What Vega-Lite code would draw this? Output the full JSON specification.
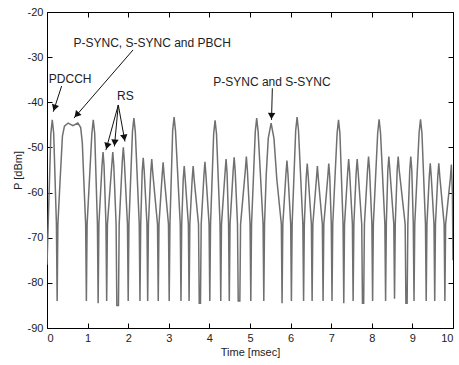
{
  "$schema": "https://vega.github.io/schema/vega-lite/v6.json",
  "width": 406,
  "height": 316,
  "autosize": "none",
  "padding": {"left": 47, "top": 12, "right": 6, "bottom": 37},
  "background": "white",
  "config": {
    "view": {"stroke": "#000", "strokeWidth": 1},
    "font": "Liberation Sans",
    "axis": {"grid": false, "domain": false, "tickColor": "#000", "tickSize": -5, "labelPadding": 9, "labelFont": "Liberation Sans", "labelFontSize": 11, "labelColor": "#222", "titleFont": "Liberation Sans", "titleFontSize": 11, "titleFontWeight": "normal", "titleColor": "#222"}
  },
  "datasets": {
    "trace": [
      {"t":0.00,"p":-76},
      {"t":0.095,"p":-46.9},{"t":0.13,"p":-43.9},{"t":0.165,"p":-46.9},
      {"t":0.232,"p":-67},{"t":0.25,"p":-84},{"t":0.268,"p":-67},
      {"t":0.33,"p":-56},{"t":0.38,"p":-47.5},{"t":0.43,"p":-45.3},{"t":0.52,"p":-44.6},{"t":0.64,"p":-45.2},{"t":0.76,"p":-44.6},{"t":0.83,"p":-45.6},{"t":0.87,"p":-49},{"t":0.91,"p":-58},
      {"t":0.952,"p":-67},{"t":0.97,"p":-84},{"t":0.988,"p":-67},
      {"t":1.105,"p":-46.9},{"t":1.14,"p":-43.9},{"t":1.175,"p":-46.9},
      {"t":1.242,"p":-67},{"t":1.26,"p":-84.5},{"t":1.278,"p":-67},
      {"t":1.355,"p":-54},{"t":1.38,"p":-51},{"t":1.405,"p":-54},
      {"t":1.452,"p":-67},{"t":1.47,"p":-84},{"t":1.488,"p":-67},
      {"t":1.595,"p":-54},{"t":1.62,"p":-51},{"t":1.645,"p":-54},
      {"t":1.702,"p":-67},{"t":1.72,"p":-85},{"t":1.76,"p":-85},{"t":1.778,"p":-67},
      {"t":1.855,"p":-53},{"t":1.88,"p":-50},{"t":1.905,"p":-53},
      {"t":1.982,"p":-67},{"t":2.00,"p":-84},{"t":2.018,"p":-67},
      {"t":2.105,"p":-46.5},{"t":2.14,"p":-43.5},{"t":2.175,"p":-46.5},
      {"t":2.272,"p":-67},{"t":2.29,"p":-84},{"t":2.308,"p":-67},
      {"t":2.345,"p":-55.3},{"t":2.37,"p":-52.3},{"t":2.395,"p":-55.3},
      {"t":2.462,"p":-67},{"t":2.48,"p":-84},{"t":2.498,"p":-67},
      {"t":2.555,"p":-55.6},{"t":2.58,"p":-52.6},{"t":2.605,"p":-55.6},
      {"t":2.722,"p":-67},{"t":2.74,"p":-84},{"t":2.758,"p":-67},
      {"t":2.835,"p":-56.3},{"t":2.86,"p":-53.3},{"t":2.885,"p":-56.3},
      {"t":2.992,"p":-67},{"t":3.01,"p":-84},{"t":3.028,"p":-67},
      {"t":3.095,"p":-46.3},{"t":3.13,"p":-43.3},{"t":3.165,"p":-46.3},
      {"t":3.282,"p":-67},{"t":3.30,"p":-84},{"t":3.318,"p":-67},
      {"t":3.355,"p":-57.1},{"t":3.38,"p":-54.1},{"t":3.405,"p":-57.1},
      {"t":3.482,"p":-67},{"t":3.50,"p":-84},{"t":3.518,"p":-67},
      {"t":3.575,"p":-57.1},{"t":3.60,"p":-54.1},{"t":3.625,"p":-57.1},
      {"t":3.732,"p":-67},{"t":3.75,"p":-84.5},{"t":3.78,"p":-84.5},{"t":3.798,"p":-67},
      {"t":3.865,"p":-56.2},{"t":3.89,"p":-53.2},{"t":3.915,"p":-56.2},
      {"t":3.992,"p":-67},{"t":4.01,"p":-84},{"t":4.028,"p":-67},
      {"t":4.105,"p":-47},{"t":4.14,"p":-44},{"t":4.175,"p":-47},
      {"t":4.262,"p":-67},{"t":4.28,"p":-84},{"t":4.298,"p":-67},
      {"t":4.385,"p":-55.6},{"t":4.41,"p":-52.6},{"t":4.435,"p":-55.6},
      {"t":4.472,"p":-67},{"t":4.49,"p":-84},{"t":4.508,"p":-67},
      {"t":4.585,"p":-55.2},{"t":4.61,"p":-52.2},{"t":4.635,"p":-55.2},
      {"t":4.692,"p":-67},{"t":4.71,"p":-84},{"t":4.75,"p":-84},{"t":4.768,"p":-67},
      {"t":4.885,"p":-55},{"t":4.91,"p":-52},{"t":4.935,"p":-55},
      {"t":5.002,"p":-67},{"t":5.02,"p":-84},{"t":5.038,"p":-67},
      {"t":5.13,"p":-46.5},{"t":5.165,"p":-43.5},{"t":5.20,"p":-46.5},
      {"t":5.322,"p":-67},{"t":5.34,"p":-84},{"t":5.358,"p":-67},
      {"t":5.40,"p":-56},{"t":5.45,"p":-48},{"t":5.52,"p":-44.6},{"t":5.59,"p":-48},{"t":5.66,"p":-57},
      {"t":5.772,"p":-67},{"t":5.79,"p":-84.5},{"t":5.808,"p":-67},
      {"t":5.885,"p":-55.9},{"t":5.91,"p":-52.9},{"t":5.935,"p":-55.9},
      {"t":6.002,"p":-67},{"t":6.02,"p":-84},{"t":6.038,"p":-67},
      {"t":6.125,"p":-46.3},{"t":6.16,"p":-43.3},{"t":6.195,"p":-46.3},
      {"t":6.302,"p":-67},{"t":6.32,"p":-84},{"t":6.338,"p":-67},
      {"t":6.385,"p":-56.6},{"t":6.41,"p":-53.6},{"t":6.435,"p":-56.6},
      {"t":6.512,"p":-67},{"t":6.53,"p":-84},{"t":6.548,"p":-67},
      {"t":6.635,"p":-57.1},{"t":6.66,"p":-54.1},{"t":6.685,"p":-57.1},
      {"t":6.782,"p":-67},{"t":6.80,"p":-84},{"t":6.818,"p":-67},
      {"t":6.915,"p":-56.6},{"t":6.94,"p":-53.6},{"t":6.965,"p":-56.6},
      {"t":7.002,"p":-67},{"t":7.02,"p":-84},{"t":7.038,"p":-67},
      {"t":7.145,"p":-46.9},{"t":7.18,"p":-43.9},{"t":7.215,"p":-46.9},
      {"t":7.292,"p":-67},{"t":7.31,"p":-84.5},{"t":7.328,"p":-67},
      {"t":7.405,"p":-55.6},{"t":7.43,"p":-52.6},{"t":7.455,"p":-55.6},
      {"t":7.522,"p":-67},{"t":7.54,"p":-84},{"t":7.558,"p":-67},
      {"t":7.615,"p":-55.6},{"t":7.64,"p":-52.6},{"t":7.665,"p":-55.6},
      {"t":7.752,"p":-67},{"t":7.77,"p":-84.5},{"t":7.80,"p":-84.5},{"t":7.818,"p":-67},
      {"t":7.895,"p":-55},{"t":7.92,"p":-52},{"t":7.945,"p":-55},
      {"t":8.002,"p":-67},{"t":8.02,"p":-84},{"t":8.038,"p":-67},
      {"t":8.145,"p":-46.8},{"t":8.18,"p":-43.8},{"t":8.215,"p":-46.8},
      {"t":8.322,"p":-67},{"t":8.34,"p":-84},{"t":8.358,"p":-67},
      {"t":8.395,"p":-55},{"t":8.42,"p":-52},{"t":8.445,"p":-55},
      {"t":8.542,"p":-67},{"t":8.56,"p":-83.5},{"t":8.578,"p":-67},
      {"t":8.625,"p":-55},{"t":8.65,"p":-52},{"t":8.675,"p":-55},
      {"t":8.822,"p":-67},{"t":8.84,"p":-84.5},{"t":8.87,"p":-84.5},{"t":8.888,"p":-67},
      {"t":8.935,"p":-55},{"t":8.96,"p":-52},{"t":8.985,"p":-55},
      {"t":9.022,"p":-67},{"t":9.04,"p":-84},{"t":9.058,"p":-67},
      {"t":9.165,"p":-46.8},{"t":9.20,"p":-43.8},{"t":9.235,"p":-46.8},
      {"t":9.322,"p":-67},{"t":9.34,"p":-84},{"t":9.358,"p":-67},
      {"t":9.415,"p":-56.5},{"t":9.44,"p":-53.5},{"t":9.465,"p":-56.5},
      {"t":9.532,"p":-67},{"t":9.55,"p":-84},{"t":9.568,"p":-67},
      {"t":9.625,"p":-56.5},{"t":9.65,"p":-53.5},{"t":9.675,"p":-56.5},
      {"t":9.782,"p":-67},{"t":9.80,"p":-84},{"t":9.818,"p":-67},
      {"t":9.935,"p":-56.8},{"t":9.96,"p":-53.8},{"t":9.985,"p":-60},
      {"t":10.0,"p":-75}
    ],
    "labels": [
      {"text":"PDCCH","t":0.57,"p":-34.8},
      {"text":"P-SYNC, S-SYNC and PBCH","t":2.59,"p":-26.9},
      {"text":"RS","t":1.93,"p":-38.6},
      {"text":"P-SYNC and S-SYNC","t":5.54,"p":-35.4}
    ],
    "arrows": [
      {"name":"PDCCH","t":0.36,"p":-36.4,"t2":0.155,"p2":-42.1},
      {"name":"PBCH","t":2.12,"p":-28.4,"t2":0.665,"p2":-43.5},
      {"name":"RS1","t":1.756,"p":-40.6,"t2":1.45,"p2":-50.6},
      {"name":"RS2","t":1.756,"p":-40.6,"t2":1.66,"p2":-49.8},
      {"name":"RS3","t":1.756,"p":-40.6,"t2":1.92,"p2":-48.7},
      {"name":"PSYNC","t":5.55,"p":-36.9,"t2":5.53,"p2":-43.9}
    ],
    "heads": [
      {"name":"PDCCH","t":0.185,"p":-41.24},
      {"name":"PBCH","t":0.73,"p":-42.8},
      {"name":"RS1","t":1.48,"p":-49.7},
      {"name":"RS2","t":1.667,"p":-48.95},
      {"name":"RS3","t":1.904,"p":-47.87},
      {"name":"PSYNC","t":5.53,"p":-43.04}
    ]
  },
  "layer": [
    {
      "data": {"name": "trace"},
      "mark": {"type": "line", "color": "#707070", "strokeWidth": 1.5, "clip": true},
      "encoding": {
        "x": {"field": "t", "type": "quantitative", "scale": {"domain": [0, 10], "nice": false, "zero": false}, "axis": {"title": "Time [msec]", "values": [0,1,2,3,4,5,6,7,8,9,10], "titlePadding": 3}},
        "y": {"field": "p", "type": "quantitative", "scale": {"domain": [-90, -20], "nice": false, "zero": false}, "axis": {"title": "P [dBm]", "values": [-90,-80,-70,-60,-50,-40,-30,-20], "titlePadding": 4, "labelExpr": "replace(datum.label, '−', '-')"}}
      }
    },
    {
      "data": {"name": "trace"},
      "mark": {"type": "point", "opacity": 0},
      "encoding": {
        "x": {"field": "t", "type": "quantitative", "axis": {"orient": "top", "labels": false, "title": null, "values": [0,1,2,3,4,5,6,7,8,9,10]}},
        "y": {"field": "p", "type": "quantitative", "axis": {"orient": "right", "labels": false, "title": null, "values": [-90,-80,-70,-60,-50,-40,-30,-20]}}
      }
    },
    {
      "data": {"name": "arrows"},
      "mark": {"type": "rule", "color": "#111", "strokeWidth": 1},
      "encoding": {
        "x": {"field": "t", "type": "quantitative", "axis": null},
        "y": {"field": "p", "type": "quantitative", "axis": null},
        "x2": {"field": "t2"},
        "y2": {"field": "p2"}
      }
    },
    {"data": {"name": "heads"}, "transform": [{"filter": "datum.name == 'PDCCH'"}], "mark": {"type": "point", "shape": "triangle-down", "filled": true, "color": "#111", "size": 55, "opacity": 1, "angle": 18}, "encoding": {"x": {"field": "t", "type": "quantitative", "axis": null}, "y": {"field": "p", "type": "quantitative", "axis": null}}},
    {"data": {"name": "heads"}, "transform": [{"filter": "datum.name == 'PBCH'"}], "mark": {"type": "point", "shape": "triangle-down", "filled": true, "color": "#111", "size": 55, "opacity": 1, "angle": 41}, "encoding": {"x": {"field": "t", "type": "quantitative", "axis": null}, "y": {"field": "p", "type": "quantitative", "axis": null}}},
    {"data": {"name": "heads"}, "transform": [{"filter": "datum.name == 'RS1'"}], "mark": {"type": "point", "shape": "triangle-down", "filled": true, "color": "#111", "size": 55, "opacity": 1, "angle": 15}, "encoding": {"x": {"field": "t", "type": "quantitative", "axis": null}, "y": {"field": "p", "type": "quantitative", "axis": null}}},
    {"data": {"name": "heads"}, "transform": [{"filter": "datum.name == 'RS2'"}], "mark": {"type": "point", "shape": "triangle-down", "filled": true, "color": "#111", "size": 55, "opacity": 1, "angle": 5}, "encoding": {"x": {"field": "t", "type": "quantitative", "axis": null}, "y": {"field": "p", "type": "quantitative", "axis": null}}},
    {"data": {"name": "heads"}, "transform": [{"filter": "datum.name == 'RS3'"}], "mark": {"type": "point", "shape": "triangle-down", "filled": true, "color": "#111", "size": 55, "opacity": 1, "angle": -10}, "encoding": {"x": {"field": "t", "type": "quantitative", "axis": null}, "y": {"field": "p", "type": "quantitative", "axis": null}}},
    {"data": {"name": "heads"}, "transform": [{"filter": "datum.name == 'PSYNC'"}], "mark": {"type": "point", "shape": "triangle-down", "filled": true, "color": "#111", "size": 55, "opacity": 1, "angle": 2}, "encoding": {"x": {"field": "t", "type": "quantitative", "axis": null}, "y": {"field": "p", "type": "quantitative", "axis": null}}},
    {
      "data": {"name": "labels"},
      "mark": {"type": "text", "font": "Liberation Sans", "fontSize": 12, "color": "#222", "align": "center", "baseline": "middle"},
      "encoding": {
        "x": {"field": "t", "type": "quantitative", "axis": null},
        "y": {"field": "p", "type": "quantitative", "axis": null},
        "text": {"field": "text"}
      }
    }
  ],
  "resolve": {"axis": {"x": "independent", "y": "independent"}}
}
